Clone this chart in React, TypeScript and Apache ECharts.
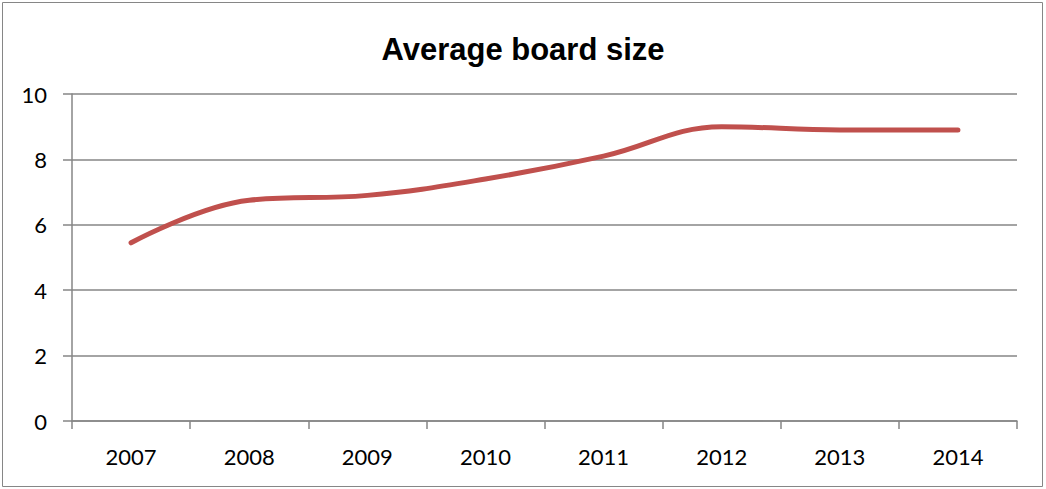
import React, { useEffect, useRef } from "react";
import * as echarts from "echarts";

const years = ["2007", "2008", "2009", "2010", "2011", "2012", "2013", "2014"];
const boardSize = [5.45, 6.75, 6.9, 7.4, 8.1, 9.0, 8.9, 8.9];
const title = "Average board size";

export default function App() {
  const ref = useRef<HTMLDivElement>(null);
  useEffect(() => {
    document.body.style.margin = "0";
    const chart = echarts.init(ref.current!, null, { renderer: "svg" });
    const grey = "#868686";
    chart.setOption({
      animation: false,
      backgroundColor: "#ffffff",
      title: {
        text: title,
        left: "center",
        top: 29,
        textStyle: {
          fontFamily: "Liberation Sans",
          fontWeight: "bold",
          fontSize: 31,
          color: "#000",
        },
      },
      graphic: [
        {
          type: "rect",
          shape: { x: 2.5, y: 2.5, width: 1040, height: 484 },
          style: { fill: "none", stroke: grey, lineWidth: 1 },
          silent: true,
        },
      ],
      grid: { left: 72, right: 29, top: 94, bottom: 68 },
      xAxis: {
        type: "category",
        data: years,
        boundaryGap: true,
        axisLine: { lineStyle: { color: grey, width: 1.5 } },
        axisTick: { show: true, length: 8, interval: 0, lineStyle: { color: grey, width: 1.5 } },
        axisLabel: {
          margin: 24,
          fontFamily: "Lato",
          fontSize: 22,
          color: "#000",
        },
      },
      yAxis: {
        type: "value",
        min: 0,
        max: 10,
        interval: 2,
        axisLine: { show: true, lineStyle: { color: grey, width: 1.5 } },
        axisTick: { show: true, length: 9, lineStyle: { color: grey, width: 1.5 } },
        splitLine: { show: true, lineStyle: { color: grey, width: 1.5 } },
        axisLabel: {
          margin: 25,
          fontFamily: "Lato",
          fontSize: 22,
          color: "#000",
        },
      },
      series: [
        {
          type: "line",
          data: boardSize,
          smooth: 0.4,
          symbol: "none",
          lineStyle: { color: "#C0504D", width: 5, cap: "round" },
        },
      ],
    });
    return () => chart.dispose();
  }, []);
  return (
    <div
      ref={ref}
      style={{ position: "absolute", left: 0, top: 0, width: 1046, height: 489 }}
    />
  );
}
